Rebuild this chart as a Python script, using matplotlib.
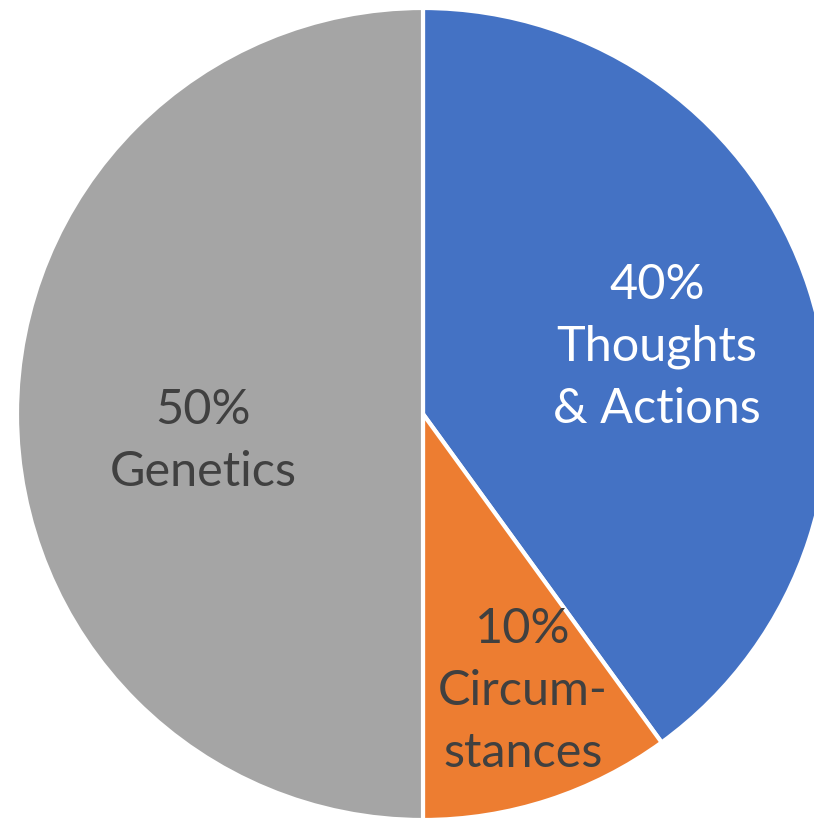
import matplotlib
matplotlib.use("Agg")
import matplotlib.pyplot as plt

labels = ["40%\nThoughts\n& Actions", "10%\nCircum-\nstances", "50%\nGenetics"]
values = [40, 10, 50]
colors = ["#4472C4", "#ED7D31", "#A5A5A5"]
text_colors = ["white", "#404040", "#404040"]
label_pos = [(657, 819 - 347), (523, 819 - 691), (203, 819 - 441)]

fig = plt.figure(figsize=(8.14, 8.19), dpi=100)
ax = fig.add_axes([0, 0, 1, 1])

ax.pie(values, colors=colors, startangle=90, counterclock=False,
       center=(423, 819 - 414), radius=406, frame=True,
       wedgeprops=dict(edgecolor="white", linewidth=3))
ax.set_xlim(0, 814)
ax.set_ylim(0, 819)
ax.set_aspect("equal")
ax.axis("off")

for lab, (x, y), c in zip(labels, label_pos, text_colors):
    ax.text(x, y, lab, ha="center", va="center", color=c, fontsize=35,
            family=["Lato", "DejaVu Sans"], linespacing=1.49)

fig.savefig("out.png", dpi=100)
